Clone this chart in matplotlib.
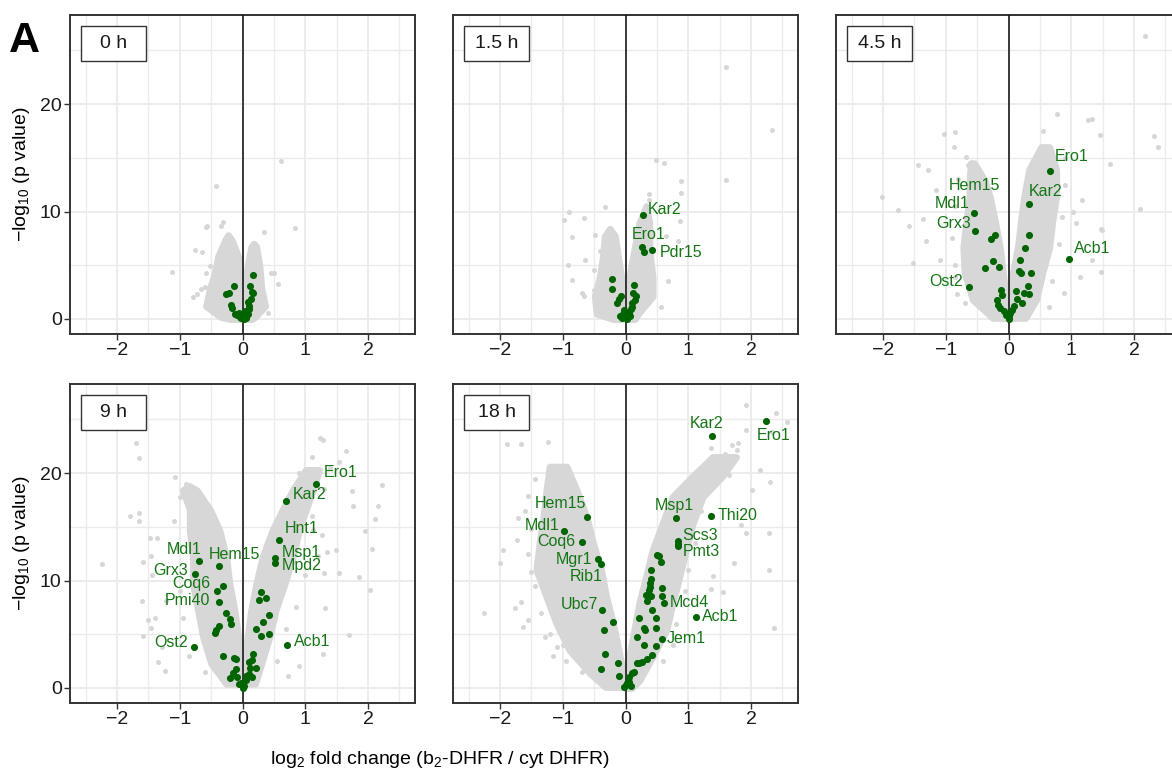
import matplotlib
matplotlib.use("Agg")
import matplotlib.pyplot as plt
from matplotlib.patches import Rectangle

plt.rcParams['font.family'] = ['Liberation Sans', 'DejaVu Sans']
plt.rcParams['mathtext.fontset'] = 'custom'
plt.rcParams['mathtext.rm'] = 'Liberation Sans'

# ---------------- data ----------------
timepoints = ['0 h', '1.5 h', '4.5 h', '9 h', '18 h']

# dense cloud of all proteins: (y level, outer x, inner x) for left and right arm
h0_core_left = [(0.0, -0.20, 0.0), (0.2, -0.35, 0.0), (1.2, -0.58, 0.0), (2.8, -0.52, -0.02),
                (4.3, -0.44, -0.05), (5.8, -0.39, -0.07), (7.3, -0.28, -0.17), (7.8, -0.23, -0.23)]
h0_core_right = [(0.0, 0.15, 0.0), (0.2, 0.20, 0.0), (1.2, 0.36, 0.0), (2.8, 0.30, 0.04),
                 (4.9, 0.27, 0.08), (6.7, 0.22, 0.14), (7.0, 0.18, 0.18)]
h1_core_left = [(0.0, -0.20, 0.0), (0.5, -0.46, 0.0), (2.1, -0.49, -0.02), (3.9, -0.41, -0.07),
                (5.8, -0.36, -0.12), (7.7, -0.33, -0.17), (8.4, -0.25, -0.25)]
h1_core_right = [(0.0, 0.15, 0.0), (0.5, 0.20, 0.0), (2.1, 0.43, 0.02), (3.9, 0.43, 0.06),
                 (6.4, 0.38, 0.14), (8.9, 0.38, 0.22), (10.5, 0.33, 0.33)]
h4_core_left = [(0.1, -0.25, 0.0), (1.8, -0.57, -0.04), (4.3, -0.70, -0.09), (6.7, -0.72, -0.14),
                (9.2, -0.67, -0.22), (11.4, -0.62, -0.30), (12.9, -0.62, -0.38), (14.5, -0.60, -0.55)]
h4_core_right = [(0.1, 0.27, 0.0), (1.8, 0.44, 0.04), (4.3, 0.54, 0.07), (6.7, 0.65, 0.15),
                 (9.2, 0.70, 0.20), (11.4, 0.76, 0.25), (13.9, 0.76, 0.33), (16.0, 0.65, 0.52)]
h9_core_left = [(0.4, -0.26, 0.0), (2.3, -0.50, -0.02), (4.8, -0.63, -0.07), (7.3, -0.71, -0.13),
                (9.7, -0.79, -0.21), (12.2, -0.79, -0.26), (14.7, -0.84, -0.37), (16.6, -0.84, -0.52),
                (18.4, -0.95, -0.73), (18.8, -0.85, -0.85)]
h9_core_right = [(0.4, 0.20, 0.0), (2.3, 0.30, 0.03), (4.8, 0.43, 0.08), (7.3, 0.53, 0.14),
                 (9.7, 0.67, 0.22), (12.2, 0.80, 0.32), (14.7, 0.90, 0.48), (16.6, 1.01, 0.64),
                 (18.4, 1.12, 0.80), (20.3, 1.22, 1.01)]
h18_core_left = [(0.1, -0.32, 0.0), (1.4, -0.57, -0.04), (3.5, -0.89, -0.11), (6.0, -1.10, -0.20),
                 (8.5, -1.26, -0.31), (11.0, -1.42, -0.39), (13.5, -1.37, -0.52), (15.9, -1.31, -0.62),
                 (18.4, -1.26, -0.78), (20.6, -1.21, -0.94)]
h18_core_right = [(0.0, 0.10, 0.0), (0.7, 0.22, 0.02), (2.9, 0.43, 0.06), (5.4, 0.65, 0.14),
                  (7.9, 0.75, 0.22), (10.4, 0.86, 0.33), (12.8, 0.96, 0.43), (15.3, 1.07, 0.59),
                  (17.8, 1.23, 0.75), (19.7, 1.54, 1.07), (21.5, 1.76, 1.39)]

# scattered proteins outside the dense cloud
h0_gray = [(0.62, 14.7), (-0.43, 12.4), (-0.56, 8.7), (-0.58, 8.6), (-0.31, 9.0), (-0.35, 8.7),
           (0.35, 8.1), (0.83, 8.5), (-0.23, 7.8), (-0.28, 7.4), (-0.75, 6.4), (-0.64, 6.2),
           (-1.12, 4.4), (0.46, 4.3), (0.51, 4.3), (0.56, 3.3), (-0.79, 2.0), (-0.73, 2.3),
           (-0.66, 2.8), (-0.60, 3.0), (-0.52, 4.9), (-0.58, 4.3), (0.40, 0.6), (0.16, 6.7), (0.19, 6.0)]
h1_gray = [(1.61, 23.5), (2.33, 17.6), (1.61, 12.9), (0.48, 14.8), (0.61, 14.5), (0.88, 12.8),
           (0.89, 11.7), (0.37, 11.6), (-0.90, 10.0), (-0.98, 9.2), (-0.66, 9.4), (-0.33, 10.4),
           (-0.85, 7.6), (-0.48, 7.8), (0.83, 7.3), (0.87, 9.1), (-0.92, 5.0), (-0.85, 3.6),
           (-0.69, 2.4), (-0.66, 2.1), (-0.50, 2.7), (0.67, 3.5), (0.57, 1.1), (0.37, 11.1),
           (-0.65, 5.5), (-0.41, 6.3), (-0.50, 4.6), (0.64, 7.7)]
h4_gray = [(2.17, 26.3), (2.32, 17.0), (2.39, 16.0), (2.09, 10.2), (1.33, 18.6), (1.46, 17.1),
           (1.62, 14.4), (0.77, 19.1), (1.49, 8.3), (1.33, 5.5), (1.48, 4.4), (0.89, 2.4),
           (1.14, 3.9), (1.17, 11.1), (1.47, 8.4), (1.07, 8.9), (1.03, 10.0), (0.65, 1.1),
           (-2.02, 11.4), (-1.76, 10.1), (-1.59, 8.7), (-1.31, 7.3), (-1.53, 5.2), (-1.44, 14.3),
           (-1.28, 13.9), (-1.03, 17.2), (-0.85, 17.4), (-0.87, 16.0), (-1.37, 9.3), (-1.10, 5.5),
           (-0.82, 2.3), (-0.86, 3.9), (-1.16, 12.0), (-0.68, 15.1), (-0.65, 14.3), (1.27, 18.5),
           (-0.80, 13.0), (-0.85, 10.5), (-0.90, 7.5), (-0.85, 5.0), (-0.70, 1.5), (0.90, 12.5),
           (0.85, 9.5), (0.80, 7.0), (0.70, 3.5), (0.90, 15.0), (0.55, 17.5)]
h9_gray = [(-1.69, 22.8), (-1.65, 21.4), (-1.07, 19.6), (-1.79, 16.0), (-1.65, 16.3), (-1.65, 15.5),
           (-1.48, 14.0), (-1.36, 14.0), (-2.24, 11.5), (-1.58, 11.7), (-1.46, 12.3), (-1.44, 10.5),
           (-1.61, 8.1), (-1.50, 6.3), (-1.46, 5.6), (-1.59, 4.8), (-1.28, 3.8), (-1.34, 2.4),
           (-1.24, 1.6), (-1.22, 8.1), (-1.40, 6.5),
           (1.23, 23.3), (1.28, 23.1), (1.65, 22.1), (1.54, 21.0), (1.75, 18.3), (2.22, 18.9),
           (1.76, 16.9), (2.16, 16.9), (2.11, 15.7), (1.96, 14.6), (2.07, 12.9), (1.85, 10.3),
           (2.04, 9.1), (1.30, 10.7), (1.32, 7.4), (1.69, 4.9), (1.29, 3.2), (0.90, 2.0),
           (0.72, 1.1), (1.12, 14.7), (1.27, 14.2), (1.49, 12.8), (1.21, 12.3), (1.54, 10.7), (1.35, 12.7),
           (-1.00, 17.8), (-0.90, 19.0), (-1.10, 15.5), (-1.05, 13.0), (-1.00, 9.0), (-0.95, 6.5),
           (-0.85, 3.0), (-0.60, 1.5), (1.00, 10.5), (0.85, 7.5), (0.70, 5.5), (0.55, 2.5),
           (1.10, 16.0), (1.30, 18.5), (1.40, 20.5), (1.10, 21.5), (0.90, 20.0)]
h18_gray = [(1.92, 26.3), (2.40, 25.6), (2.58, 24.8), (1.92, 24.0), (1.70, 22.6), (1.78, 22.2),
            (1.59, 21.8), (1.36, 22.3), (1.34, 21.1), (1.26, 20.6), (1.19, 20.3), (2.34, 23.8),
            (2.31, 19.2), (2.15, 20.3), (2.02, 18.4), (1.84, 15.2), (2.29, 14.4), (1.92, 14.4),
            (1.73, 11.6), (2.29, 11.0), (2.37, 5.6), (1.39, 10.4), (1.37, 9.2), (1.55, 8.9),
            (-1.89, 22.7), (-1.66, 22.7), (-1.23, 22.9), (-1.21, 20.4), (-1.55, 17.9), (-1.71, 15.8),
            (-1.73, 13.8), (-1.95, 12.8), (-2.00, 11.6), (-1.50, 10.8), (-1.66, 8.0), (-1.76, 7.4),
            (-2.25, 7.0), (-1.55, 6.3), (-1.63, 5.7), (-1.29, 4.7), (-1.09, 3.8),
            (-1.45, 19.5), (-1.60, 16.5), (-1.50, 14.8), (-1.55, 12.5), (-1.45, 9.5), (-1.35, 7.0),
            (-1.20, 5.0), (-0.95, 2.5), (-0.70, 1.5), (-1.00, 4.0), (-1.15, 3.0),
            (1.10, 13.5), (1.20, 16.5), (1.00, 11.0), (0.95, 9.0), (0.80, 6.0), (0.75, 4.0),
            (0.60, 2.5), (1.30, 18.5), (1.50, 20.8), (1.65, 19.8), (1.10, 19.0), (1.80, 22.8),
            (1.65, 21.5)]

# highlighted proteins; the first len(labels) points carry a name
h0_labels = []
h0_green = [(0.16, 4.1), (0.12, 3.1), (0.15, 2.5), (0.17, 2.4), (-0.14, 3.1), (-0.22, 2.4),
            (-0.26, 2.3), (-0.18, 1.3), (-0.16, 1.0), (0.08, 1.6), (0.11, 1.2), (0.13, 1.9),
            (-0.05, 0.6), (0.0, 0.3), (0.05, 0.2), (-0.08, 0.4), (0.03, 0.0), (0.08, 0.5),
            (-0.02, 0.1), (0.10, 0.9), (-0.12, 0.5), (0.04, 0.7), (-0.04, 0.2), (0.06, 0.1)]
h1_labels = ['Kar2', 'Ero1', 'Pdr15']
h1_green = [(0.28, 9.7), (0.26, 6.7), (0.43, 6.4), (0.29, 6.2), (-0.22, 3.7), (-0.22, 2.8),
            (-0.10, 1.9), (-0.13, 1.5), (-0.07, 2.1), (0.13, 3.2), (0.17, 2.1), (0.12, 2.4),
            (0.11, 1.5), (0.15, 1.8), (-0.04, 0.5), (0.0, 0.2), (0.05, 0.6), (-0.08, 0.3),
            (0.03, 0.0), (0.08, 0.9), (-0.02, 0.8), (0.07, 0.3), (-0.05, 0.1), (0.10, 1.1)]
h4_labels = ['Ero1', 'Kar2', 'Acb1', 'Hem15', 'Mdl1', 'Grx3', 'Ost2']
h4_green = [(0.66, 13.8), (0.32, 10.7), (0.97, 5.6), (-0.22, 7.8), (-0.55, 9.9), (-0.54, 8.2),
            (-0.63, 3.0), (-0.28, 7.4), (-0.25, 5.4), (-0.38, 4.7), (-0.15, 4.8), (0.33, 7.8),
            (0.26, 6.6), (0.19, 5.5), (0.16, 4.5), (0.20, 4.3), (0.36, 4.3), (0.31, 3.1),
            (0.24, 2.4), (0.32, 2.3), (0.12, 2.6), (0.13, 1.9), (0.22, 1.5), (-0.12, 2.7),
            (-0.10, 2.2), (-0.18, 1.8), (-0.16, 1.3), (-0.13, 1.0), (-0.07, 0.7), (-0.04, 0.4),
            (0.0, 0.3), (0.05, 0.8), (0.03, 0.6), (0.0, 0.0), (0.08, 1.2)]
h9_labels = ['Ero1', 'Kar2', 'Hnt1', 'Msp1', 'Mpd2', 'Acb1', 'Mdl1', 'Hem15', 'Grx3', 'Coq6',
             'Pmi40', 'Ost2']
h9_green = [(1.17, 19.0), (0.69, 17.4), (0.58, 13.8), (0.52, 12.1), (0.52, 11.6), (0.71, 4.0),
            (-0.70, 11.8), (-0.37, 11.4), (-0.75, 10.6), (-0.40, 9.0), (-0.38, 8.0), (-0.78, 3.8),
            (-0.31, 9.5), (-0.27, 7.0), (-0.20, 6.4), (-0.19, 6.0), (-0.37, 5.8), (-0.43, 5.4),
            (-0.44, 5.1), (-0.31, 3.0), (-0.13, 2.8), (-0.10, 2.7), (-0.11, 1.8), (-0.15, 1.4),
            (-0.05, 0.4), (-0.08, 1.0), (-0.20, 0.9), (0.30, 8.9), (0.27, 8.2), (0.38, 8.4),
            (0.43, 6.8), (0.32, 6.1), (0.22, 5.5), (0.29, 4.8), (0.43, 5.0), (0.15, 2.6),
            (0.17, 3.2), (0.22, 1.9), (0.10, 2.4), (0.10, 1.3), (0.03, 0.2), (0.06, 0.7),
            (0.0, 0.0), (-0.02, 0.5), (0.15, 1.0), (0.12, 1.9), (0.05, 1.1)]
h18_labels = ['Ero1', 'Kar2', 'Msp1', 'Thi20', 'Scs3', 'Pmt3', 'Mcd4', 'Acb1', 'Jem1',
              'Hem15', 'Mdl1', 'Coq6', 'Mgr1', 'Rib1', 'Ubc7']
h18_green = [(2.24, 24.9), (1.38, 23.5), (0.81, 15.8), (1.36, 16.0), (0.83, 13.7), (0.83, 13.2),
             (0.62, 7.9), (1.12, 6.6), (0.58, 4.6), (-0.62, 15.9), (-0.98, 14.6), (-0.70, 13.6),
             (-0.44, 12.0), (-0.39, 11.5), (-0.37, 7.3), (0.83, 13.45), (-0.20, 6.1), (-0.34, 5.4),
             (-0.32, 3.2), (-0.12, 2.3), (-0.39, 1.8), (-0.11, 1.1), (0.50, 12.4), (0.53, 12.3),
             (0.57, 11.7), (0.40, 11.0), (0.40, 10.1), (0.39, 9.8), (0.39, 9.4), (0.38, 9.1),
             (0.40, 8.6), (0.58, 9.3), (0.32, 8.7), (0.35, 8.1), (0.58, 8.6), (0.43, 7.3),
             (0.22, 6.5), (0.49, 6.5), (0.30, 5.6), (0.31, 5.4), (0.49, 5.6), (0.18, 4.7),
             (0.30, 4.0), (0.49, 3.9), (0.43, 3.1), (0.35, 2.7), (0.26, 2.4), (0.22, 2.3),
             (0.19, 2.3), (0.11, 1.4), (0.14, 1.5), (0.06, 1.0), (0.0, 0.3), (0.03, 0.5),
             (0.08, 0.2), (-0.03, 0.1), (0.05, 0.6)]

# ---------------- layout ----------------
# label offsets from their point in pixels: (dx, dy, horizontal alignment)
label_offsets = {
    '1.5 h': [(4.6, 5.4, 'left'), (-9.6, 12.4, 'left'), (7, -2.7, 'left')],
    '4.5 h': [(4.7, 14, 'left'), (0, 12.3, 'left'), (4.3, 10.4, 'left'), (-20, 50, 'center'),
              (-5, 8.7, 'right'), (-4, 7, 'right'), (-6, 5, 'right')],
    '9 h': [(7.6, 11.6, 'left'), (6.7, 6.7, 'left'), (5.7, 11.7, 'left'), (6.3, 5.3, 'left'),
            (6.3, -2.3, 'left'), (7.3, 3.3, 'left'), (3.3, 11.7, 'right'), (14.7, 10.7, 'center'),
            (-7, 4, 'right'), (-7, 7.3, 'right'), (-8.6, 1.7, 'right'), (-5.7, 4.4, 'right')],
    '18 h': [(8, -15, 'center'), (-6, 12.3, 'center'), (-2.3, 12.7, 'center'), (6.6, 0.7, 'left'),
             (4.4, 5, 'left'), (5, -5, 'left'), (5, 1, 'left'), (6.6, 0.7, 'left'), (4.6, 0, 'left'),
             (-26, 13.4, 'center'), (-5, 6, 'right'), (-6.7, 0, 'right'), (-5.6, 0, 'right'),
             (-14.7, -12, 'center'), (-4.4, 5, 'right')],
}

panels = [
    ('0 h', h0_core_left, h0_core_right, h0_gray, h0_green, h0_labels),
    ('1.5 h', h1_core_left, h1_core_right, h1_gray, h1_green, h1_labels),
    ('4.5 h', h4_core_left, h4_core_right, h4_gray, h4_green, h4_labels),
    ('9 h', h9_core_left, h9_core_right, h9_gray, h9_green, h9_labels),
    ('18 h', h18_core_left, h18_core_right, h18_gray, h18_green, h18_labels),
]

W, H = 1172, 769
fig = plt.figure(figsize=(W / 100, H / 100), dpi=100)
boxes = [(70, 15), (453, 15), (836, 15), (70, 384), (453, 384)]
pw, ph = 345, 319

GRAY = '#D7D7D7'
GREEN = '#006400'
TXT_GREEN = '#157515'
PX = 0.72  # points per pixel at 100 dpi

for i, (name, core_l, core_r, gray, green, labels) in enumerate(panels):
    left, top = boxes[i]
    ax = fig.add_axes([left / W, 1 - (top + ph) / H, pw / W, ph / H])
    ax.set_xlim(-2.75, 2.75)
    ax.set_ylim(-1.4, 28.3)
    ax.set_xticks([-2, -1, 0, 1, 2])
    ax.set_xticks([-2.5, -1.5, -0.5, 0.5, 1.5, 2.5], minor=True)
    ax.set_yticks([0, 10, 20])
    ax.set_yticks([5, 15, 25], minor=True)
    ax.grid(True, which='major', color='#EBEBEB', lw=1.3)
    ax.grid(True, which='minor', color='#EBEBEB', lw=1.0)
    ax.set_axisbelow(True)
    for s in ax.spines.values():
        s.set_color('#333333')
        s.set_linewidth(1.4)
    ax.tick_params(which='minor', length=0)
    ax.tick_params(which='major', length=4, width=1, color='#333333',
                   labelsize=14, labelcolor='#1a1a1a', pad=2)
    if i not in (0, 3):
        ax.tick_params(axis='y', which='both', left=False, labelleft=False)

    for core in (core_l, core_r):
        ys = [c[0] for c in core]
        xo = [c[1] for c in core]
        xi = [c[2] for c in core]
        ax.fill_betweenx(ys, xo, xi, facecolor=GRAY, edgecolor=GRAY, lw=5,
                         joinstyle='round', zorder=2)
    ax.scatter([p[0] for p in gray], [p[1] for p in gray], s=13, color=GRAY,
               linewidths=0, zorder=2)
    ax.axvline(0, color='#1a1a1a', lw=1.2, zorder=3)
    ax.scatter([p[0] for p in green], [p[1] for p in green], s=26, color=GREEN,
               linewidths=0, zorder=4)

    for j, lab in enumerate(labels):
        dx, dy, ha = label_offsets[name][j]
        ax.annotate(lab, xy=green[j], xytext=(dx * PX, dy * PX), textcoords='offset points',
                    ha=ha, va='center', fontsize=11.5, color=TXT_GREEN, zorder=5)

    ax.add_patch(Rectangle((11 / pw, 1 - 46 / ph), 65 / pw, 35 / ph, transform=ax.transAxes,
                           facecolor='white', edgecolor='#333333', lw=1.0, zorder=6))
    ax.text((11 + 32.5) / pw, 1 - 28.5 / ph, name, transform=ax.transAxes, ha='center',
            va='center', fontsize=14, color='#1a1a1a', zorder=7)

ylab = r'$\mathregular{-log_{10}}$ (p value)'
fig.text(22 / W, 1 - 174.5 / H, ylab, rotation=90, ha='center', va='center', fontsize=14)
fig.text(22 / W, 1 - 543 / H, ylab, rotation=90, ha='center', va='center', fontsize=14)
fig.text(440 / W, 1 - 760 / H, r'$\mathregular{log_2}$ fold change ($\mathregular{b_2}$-DHFR / cyt DHFR)',
         ha='center', va='center', fontsize=14)
fig.text(9 / W, 1 - 52 / H, 'A', fontsize=31, fontweight='bold', ha='left', va='baseline')

fig.savefig('out.png', dpi=100)
